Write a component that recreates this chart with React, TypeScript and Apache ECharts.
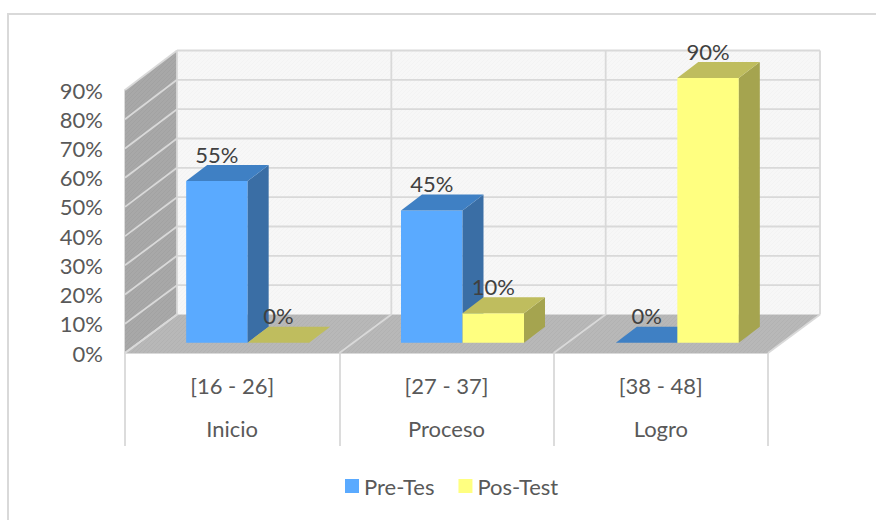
import React, { useEffect, useRef } from "react";
import * as echarts from "echarts";

const rangeLabels = ["[16 - 26]", "[27 - 37]", "[38 - 48]"];
const levelLabels = ["Inicio", "Proceso", "Logro"];
const categories = rangeLabels.map((r, i) => r + "\n" + levelLabels[i]);
const preTest = [55, 45, 0];
const posTest = [0, 10, 90];
const yTicks = [0, 10, 20, 30, 40, 50, 60, 70, 80, 90];

const FONT = "Lato, 'Open Sans', sans-serif";
const GRID = "#d9d9d9";
const DX = 52;
const DY = 38.5;

function hatch(bg: string, fg: string) {
  const c = document.createElement("canvas");
  c.width = 4;
  c.height = 4;
  const g = c.getContext("2d")!;
  g.fillStyle = bg;
  g.fillRect(0, 0, 4, 4);
  g.fillStyle = fg;
  [[3, 0], [2, 1], [1, 2], [0, 3]].forEach(([x, y]) => g.fillRect(x, y, 1, 1));
  return { image: c, repeat: "repeat" };
}

function frameRender(params: any, api: any) {
  if (params.dataIndex !== 0) return null;
  const cs = params.coordSys;
  const size = api.size([1, 0])[0];
  const x0 = cs.x;
  const x1 = cs.x + cs.width;
  const yb = api.coord([0, 0])[1];
  const yt = api.coord([0, 90])[1];
  const backY = (v: number) => api.coord([0, v])[1] - DY - (v / 90) * 1;
  const poly = (points: number[][], fill: any) => ({
    type: "polygon",
    shape: { points },
    style: { fill, stroke: "none" },
  });
  const line = (a: number[], b: number[]) => ({
    type: "line",
    shape: { x1: a[0], y1: a[1], x2: b[0], y2: b[1] },
    style: { stroke: GRID, lineWidth: 1.8 },
  });
  const children: any[] = [
    poly([[x0, yb], [x0, yt], [x0 + DX, backY(90)], [x0 + DX, backY(0)]], hatch("#a8a8a8", "#a2a2a2")),
    poly([[x0 + DX, backY(90)], [x1 + DX, backY(90)], [x1 + DX, backY(0)], [x0 + DX, backY(0)]], hatch("#f7f7f7", "#f3f3f3")),
    poly([[x0, yb], [x0 + DX, backY(0)], [x1 + DX, backY(0)], [x1, yb]], hatch("#b8b8b8", "#b2b2b2")),
  ];
  yTicks.forEach((v) => {
    const fy = api.coord([0, v])[1];
    children.push(line([x0, fy], [x0 + DX, backY(v)]));
    if (v > 0) children.push(line([x0 + DX, backY(v)], [x1 + DX, backY(v)]));
  });
  for (let i = 0; i <= categories.length; i++) {
    const x = x0 + size * i;
    children.push(line([x, yb], [x + DX, backY(0)]));
    children.push(line([x + DX, backY(0)], [x + DX, backY(90)]));
  }
  return { type: "group", children };
}

function barRender(shift: number, front: string, top: string, side: string) {
  return (_params: any, api: any) => {
    const idx = api.value(0);
    const val = api.value(1);
    const c = api.coord([idx, val]);
    const zero = api.coord([idx, 0]);
    const w = 61.5;
    const bx = 21;
    const by = 16;
    const xl = c[0] + 15.5 + idx * 0.5 + shift * w;
    const xr = xl + w;
    const yBase = zero[1] - 10.3;
    const yTop = yBase - (zero[1] - c[1]) * 1.006;
    const poly = (points: number[][], fill: string) => ({
      type: "polygon",
      shape: { points },
      style: { fill, stroke: "none" },
    });
    const children: any[] = [];
    if (val > 0) {
      children.push(poly([[xl, yBase], [xl, yTop], [xr, yTop], [xr, yBase]], front));
      children.push(poly([[xr, yBase], [xr, yTop], [xr + bx, yTop - by], [xr + bx, yBase - by]], side));
    }
    children.push(poly([[xl, yTop], [xl + bx, yTop - by], [xr + bx, yTop - by], [xr, yTop]], top));
    children.push({
      type: "text",
      z2: 50,
      style: {
        text: val + "%",
        x: (xl + xr) / 2,
        y: yTop - 27,
        align: "center",
        verticalAlign: "middle",
        fill: "#404040",
        font: `22px ${FONT}`,
      },
    });
    return { type: "group", children };
  };
}

export default function App() {
  const ref = useRef<HTMLDivElement>(null);
  useEffect(() => {
    document.body.style.margin = "0";
    const chart = echarts.init(ref.current!, undefined, { renderer: "svg" });
    chart.setOption({
      animation: false,
      backgroundColor: "#ffffff",
      grid: { left: 125, top: 90, width: 643, bottom: 167, containLabel: false },
      xAxis: {
        type: "category",
        data: categories,
        boundaryGap: true,
        axisLine: { show: true, lineStyle: { color: GRID, width: 2 } },
        axisTick: { show: true, length: 93, lineStyle: { color: GRID, width: 1.8 } },
        axisLabel: {
          color: "#595959",
          fontFamily: FONT,
          fontSize: 22,
          lineHeight: 43,
          margin: 11,
          interval: 0,
        },
      },
      yAxis: {
        type: "value",
        min: 0,
        max: 90,
        interval: 10,
        axisLine: { show: true, lineStyle: { color: GRID, width: 1.8 } },
        axisTick: { show: false },
        splitLine: { show: false },
        axisLabel: {
          color: "#595959",
          fontFamily: FONT,
          fontSize: 22,
          margin: 22,
          formatter: "{value}%",
        },
      },
      legend: {
        left: 340,
        top: 470,
        itemWidth: 14,
        itemHeight: 14,
        itemGap: 24,
        textStyle: { color: "#595959", fontFamily: FONT, fontSize: 22 },
        data: [
          { name: "Pre-Tes", icon: "rect", itemStyle: { color: "#5aaaff" } },
          { name: "Pos-Test", icon: "rect", itemStyle: { color: "#ffff80" } },
        ],
      },
      graphic: [
        {
          type: "rect",
          silent: true,
          shape: { x: 8, y: 14, width: 1000, height: 1000 },
          style: { fill: "none", stroke: GRID, lineWidth: 2 },
        },
      ],
      series: [
        {
          type: "custom",
          name: "frame",
          renderItem: frameRender,
          data: categories.map((_, i) => [i, 0]),
          encode: { x: 0, y: 1 },
          silent: true,
          z: 1,
        },
        {
          type: "custom",
          name: "Pre-Tes",
          renderItem: barRender(-1, "#5aaaff", "#3f80c4", "#3a6ea5"),
          data: preTest.map((v, i) => [i, v]),
          encode: { x: 0, y: 1 },
          itemStyle: { color: "#5aaaff" },
          z: 2,
        },
        {
          type: "custom",
          name: "Pos-Test",
          renderItem: barRender(0, "#ffff80", "#bfbd5e", "#a5a44f"),
          data: posTest.map((v, i) => [i, v]),
          encode: { x: 0, y: 1 },
          itemStyle: { color: "#ffff80" },
          z: 3,
        },
      ],
    });
    return () => chart.dispose();
  }, []);
  return <div ref={ref} style={{ width: 876, height: 520 }} />;
}
